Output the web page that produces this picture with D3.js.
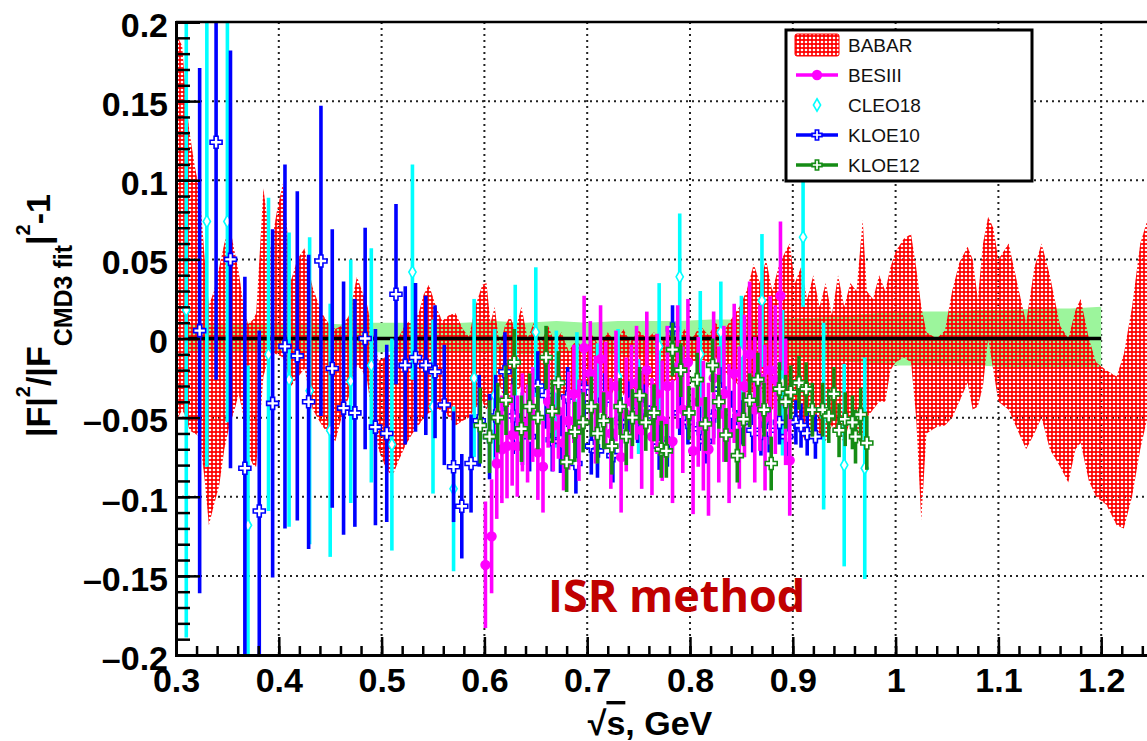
<!DOCTYPE html>
<html>
<head>
<meta charset="utf-8">
<script src="https://cdn.jsdelivr.net/npm/d3@7"></script>
<style>
  body { margin: 0; background: #fff; }
  svg { display: block; }
</style>
</head>
<body>
<svg id="chart" width="1147" height="741"></svg>
<script>
// ---- data ----
const xTicks = [0.3, 0.4, 0.5, 0.6, 0.7, 0.8, 0.9, 1.0, 1.1, 1.2];
const yTicks = [-0.2, -0.15, -0.1, -0.05, 0, 0.05, 0.1, 0.15, 0.2];

// BABAR band (upper / lower edge)
const babarX = [0.302,0.306,0.31,0.313,0.318,0.323,0.328,0.332,0.337,0.342,0.347,0.352,0.357,0.361,0.366,0.370,0.375,0.378,0.382,0.385,0.389,0.392,0.398,0.404,0.408,0.412,0.418,0.425,0.433,0.442,0.448,0.455,0.461,0.468,0.476,0.481,0.486,0.491,0.497,0.503,0.51,0.516,0.523,0.53,0.536,0.541,0.546,0.553,0.559,0.566,0.572,0.579,0.585,0.591,0.598,
  0.602,0.606,0.61,0.615,0.62,0.625,0.63,0.636,0.642,0.648,0.655,0.662,0.668,0.675,0.682,0.69,0.697,0.705,0.712,0.72,0.728,0.735,0.742,0.75,0.758,0.765,0.772,0.78,0.788,0.795,0.802,0.81,0.818,0.825,0.832,0.84,0.848,0.855,0.862,0.868,0.874,0.88,0.886,0.892,0.897,0.902,0.908,0.914,0.92,0.926,0.932,0.938,0.944,0.95,0.956,0.962,0.968,0.972,0.978,0.984,
  0.99,0.995,1.0,1.008,1.015,1.02,1.025,1.03,1.04,1.048,1.055,1.062,1.07,1.075,1.08,1.085,1.09,1.095,1.1,1.11,1.12,1.127,1.135,1.142,1.15,1.16,1.168,1.175,1.18,1.188,1.195,1.205,1.215,1.222,1.23,1.238,1.245];
const babarHi = [0.19,0.185,0.15,0.131,0.11,0.093,0.05,0.021,0.03,0.045,0.06,0.072,0.055,0.042,0.02,0.009,0.012,0.016,0.06,0.095,0.075,0.057,0.08,0.098,0.07,0.037,0.05,0.057,0.032,0.016,0.01,0.006,0.008,0.014,0.039,0.03,0.021,0.005,-0.014,-0.012,-0.009,0.0,0.009,0.012,0.016,0.028,0.034,0.02,0.011,0.015,0.016,0.006,0.001,0.02,0.034,
  0.035,0.01,0.02,-0.005,0.008,0.014,0.005,0.02,0.0,0.01,-0.003,0.008,-0.002,0.004,-0.008,0.0,-0.01,0.002,-0.005,0.004,-0.003,0.006,-0.002,0.005,0.0,0.004,-0.002,0.004,0.0,0.006,0.0,0.008,0.002,0.01,0.004,0.012,0.02,0.03,0.047,0.035,0.05,0.03,0.045,0.054,0.06,0.035,0.045,0.025,0.04,0.02,0.035,0.015,0.04,0.02,0.035,0.03,0.075,0.03,0.025,0.04,
  0.03,0.045,0.055,0.063,0.066,0.045,0.02,0.004,0.0,0.005,0.03,0.048,0.058,0.05,0.025,0.06,0.077,0.07,0.05,0.06,0.03,0.01,0.045,0.06,0.04,0.008,0.0,0.018,0.025,0.0,-0.015,-0.02,-0.024,-0.01,0.02,0.06,0.075];
const babarLo = [-0.05,-0.045,-0.05,-0.058,-0.06,-0.062,-0.09,-0.118,-0.105,-0.093,-0.07,-0.055,-0.045,-0.035,-0.05,-0.073,-0.08,-0.081,-0.05,-0.024,-0.015,-0.009,-0.01,-0.012,-0.02,-0.03,-0.025,-0.019,-0.045,-0.055,-0.06,-0.065,-0.05,-0.037,-0.017,-0.02,-0.027,-0.05,-0.07,-0.08,-0.088,-0.078,-0.068,-0.06,-0.055,-0.05,-0.047,-0.045,-0.045,-0.05,-0.055,-0.052,-0.05,-0.044,-0.04,
  -0.045,-0.04,-0.035,-0.03,-0.04,-0.043,-0.035,-0.03,-0.038,-0.03,-0.028,-0.035,-0.03,-0.038,-0.035,-0.039,-0.03,-0.036,-0.032,-0.04,-0.03,-0.036,-0.03,-0.034,-0.03,-0.032,-0.028,-0.03,-0.025,-0.02,-0.015,-0.013,-0.015,-0.012,-0.02,-0.025,-0.03,-0.034,-0.034,-0.03,-0.04,-0.045,-0.04,-0.045,-0.035,-0.05,-0.06,-0.066,-0.055,-0.06,-0.065,-0.055,-0.06,-0.066,-0.05,-0.066,-0.06,-0.05,-0.045,-0.04,
  -0.04,-0.02,-0.015,-0.012,-0.015,-0.05,-0.115,-0.06,-0.056,-0.055,-0.05,-0.04,-0.028,-0.045,-0.043,-0.03,0.0,-0.02,-0.04,-0.045,-0.06,-0.07,-0.06,-0.05,-0.07,-0.081,-0.091,-0.07,-0.066,-0.09,-0.1,-0.105,-0.118,-0.12,-0.1,-0.07,-0.05];

// CMD-3 fit uncertainty band (green)
const bandX  = [0.31,0.33,0.35,0.37,0.40,0.43,0.46,0.49,0.52,0.55,0.58,0.61,0.64,0.67,0.70,0.73,0.76,0.79,0.82,0.85,0.88,0.90,0.92,0.94,0.96,0.98,1.00,1.02,1.05,1.08,1.11,1.14,1.17,1.20];
const bandHi = [0.008,0.010,0.009,0.010,0.009,0.010,0.009,0.010,0.010,0.009,0.010,0.011,0.010,0.011,0.010,0.011,0.011,0.011,0.012,0.012,0.012,0.013,0.013,0.014,0.015,0.016,0.017,0.017,0.017,0.018,0.018,0.019,0.019,0.020];
const bandLo = [-0.008,-0.008,-0.009,-0.008,-0.009,-0.008,-0.009,-0.009,-0.008,-0.009,-0.009,-0.009,-0.010,-0.009,-0.010,-0.010,-0.010,-0.011,-0.011,-0.011,-0.012,-0.012,-0.013,-0.014,-0.015,-0.016,-0.017,-0.017,-0.017,-0.017,-0.018,-0.018,-0.018,-0.018];

// BESIII
const besX = [0.601,0.607,0.612,0.617,0.622,0.627,0.632,0.637,0.642,0.647,0.652,0.657,0.662,0.667,0.672,0.677,0.682,0.687,0.692,0.697,0.703,0.708,0.713,0.718,0.723,0.728,0.733,0.738,0.743,0.748,0.753,0.758,0.763,0.768,0.773,0.778,0.783,0.788,0.793,0.798,0.803,0.808,0.813,0.818,0.823,0.828,0.833,0.838,0.843,0.848,0.853,0.858,0.863,0.868,0.873,0.878,0.883,0.888,0.893,0.897];
const besY = [-0.143,-0.125,-0.079,-0.070,-0.068,-0.061,-0.068,-0.053,-0.060,-0.048,-0.072,-0.081,-0.040,-0.055,-0.046,-0.066,-0.052,-0.035,-0.058,-0.006,-0.022,-0.045,-0.013,-0.036,-0.060,-0.030,-0.075,-0.048,-0.040,-0.028,-0.058,-0.020,-0.062,-0.035,-0.052,-0.030,-0.065,-0.018,-0.045,-0.015,-0.071,-0.040,-0.055,-0.070,-0.025,-0.048,-0.035,-0.060,-0.022,-0.050,-0.030,-0.010,-0.045,-0.025,-0.050,-0.020,-0.026,0.027,-0.040,-0.077];
const besErr = [0.040,0.036,0.035,0.034,0.033,0.032,0.032,0.031,0.031,0.030,0.030,0.029,0.029,0.029,0.030,0.030,0.031,0.031,0.032,0.033,0.033,0.034,0.034,0.034,0.035,0.035,0.035,0.036,0.036,0.036,0.037,0.037,0.037,0.038,0.038,0.038,0.039,0.039,0.040,0.040,0.040,0.041,0.041,0.042,0.042,0.043,0.043,0.044,0.044,0.045,0.045,0.046,0.046,0.046,0.046,0.047,0.047,0.047,0.040,0.035];

// CLEO18
const cleoX = [0.31,0.33,0.35,0.37,0.39,0.41,0.43,0.45,0.47,0.49,0.51,0.53,0.55,0.57,0.59,0.61,0.63,0.65,0.67,0.69,0.71,0.73,0.75,0.77,0.79,0.81,0.83,0.85,0.87,0.89,0.91,0.93,0.95,0.97];
const cleoY = [0.018,0.074,0.074,-0.118,-0.010,-0.026,-0.033,-0.058,-0.027,-0.017,-0.067,0.042,-0.043,-0.095,-0.025,-0.036,-0.014,0.004,-0.032,-0.036,-0.043,-0.024,-0.043,-0.005,0.039,-0.010,0.004,-0.009,0.024,-0.028,0.064,-0.049,-0.080,-0.082];
const cleoErr = [0.207,0.155,0.127,0.101,0.099,0.093,0.097,0.080,0.077,0.074,0.067,0.068,0.055,0.052,0.050,0.042,0.048,0.041,0.037,0.040,0.040,0.030,0.030,0.040,0.040,0.040,0.032,0.036,0.042,0.046,0.044,0.059,0.064,0.070];

// KLOE10
const kloe10X = [0.323,0.339,0.353,0.367,0.381,0.394,0.406,0.418,0.429,0.441,0.452,0.463,0.474,0.484,0.494,0.505,0.514,0.523,0.533,0.543,0.552,0.561,0.570,0.578,0.587,0.595,0.605,0.611,0.620,0.628,0.637,0.644,0.652,0.660,0.666,0.674,0.681,0.689,0.697,0.704,0.710,0.717,0.725,0.733,0.741,0.749,0.756,0.764,0.770,0.778,0.783,0.790,0.798,0.809,0.815,0.823,0.829,0.840,0.851,0.861,0.869,0.877,0.887,0.894,0.903,0.908,0.914,0.922];
const kloe10Y = [0.005,0.124,0.050,-0.082,-0.109,-0.041,-0.005,-0.011,-0.040,0.049,-0.019,-0.044,-0.047,0.000,-0.056,-0.060,0.028,-0.017,-0.012,-0.017,-0.021,-0.042,-0.081,-0.106,-0.079,-0.052,-0.062,-0.049,-0.021,-0.049,-0.057,-0.062,-0.030,-0.036,-0.064,-0.065,-0.037,-0.079,-0.031,-0.068,-0.071,-0.039,-0.074,-0.053,-0.043,-0.050,-0.044,-0.049,-0.068,-0.066,0.006,-0.047,-0.053,-0.057,-0.065,-0.049,-0.032,-0.047,-0.053,-0.058,-0.060,-0.058,-0.053,-0.062,-0.053,-0.055,-0.060,-0.062];
const kloe10Err = [0.166,0.150,0.132,0.121,0.114,0.110,0.115,0.104,0.093,0.098,0.088,0.080,0.072,0.070,0.062,0.056,0.057,0.050,0.047,0.044,0.042,0.038,0.035,0.033,0.031,0.029,0.027,0.026,0.025,0.024,0.023,0.022,0.022,0.021,0.020,0.020,0.019,0.019,0.018,0.018,0.017,0.017,0.017,0.016,0.016,0.016,0.015,0.015,0.015,0.015,0.015,0.014,0.014,0.014,0.014,0.014,0.014,0.014,0.014,0.014,0.014,0.014,0.014,0.014,0.014,0.014,0.014,0.014];

// KLOE12
const kloe12X = [0.596,0.605,0.613,0.621,0.629,0.636,0.644,0.652,0.660,0.666,0.672,0.680,0.688,0.696,0.704,0.710,0.716,0.724,0.732,0.738,0.744,0.751,0.757,0.765,0.772,0.777,0.783,0.791,0.799,0.807,0.815,0.822,0.828,0.835,0.846,0.852,0.858,0.866,0.872,0.879,0.887,0.893,0.898,0.906,0.913,0.919,0.929,0.935,0.940,0.945,0.951,0.958,0.961,0.966,0.972];
const kloe12Y = [-0.055,-0.062,-0.050,-0.039,-0.015,-0.057,-0.043,-0.050,-0.012,-0.046,-0.028,-0.078,-0.059,-0.053,-0.043,-0.060,-0.052,-0.068,-0.043,-0.062,-0.050,-0.036,-0.053,-0.047,-0.070,-0.071,-0.007,-0.020,-0.047,-0.026,-0.054,-0.017,-0.040,-0.061,-0.074,-0.051,-0.039,-0.026,-0.045,-0.079,-0.032,-0.040,-0.034,-0.028,-0.032,-0.045,-0.045,-0.049,-0.035,-0.058,-0.051,-0.053,-0.062,-0.048,-0.066];
const kloe12Err = [0.024,0.023,0.022,0.022,0.021,0.021,0.021,0.020,0.020,0.020,0.020,0.019,0.019,0.019,0.019,0.019,0.018,0.018,0.018,0.018,0.018,0.018,0.018,0.018,0.018,0.017,0.017,0.017,0.017,0.017,0.017,0.017,0.017,0.017,0.017,0.017,0.017,0.017,0.017,0.017,0.017,0.017,0.017,0.017,0.017,0.017,0.017,0.017,0.017,0.017,0.017,0.017,0.017,0.017,0.017];

const legendNames = ["BABAR", "BESIII", "CLEO18", "KLOE10", "KLOE12"];

// ---- setup ----
const svg = d3.select("svg#chart");
const x = d3.scaleLinear().domain([0.3, 1.3]).range([176, 1204]);
const y = d3.scaleLinear().domain([-0.2, 0.2]).range([655, 22]);

const colors = { BESIII: "#ff00ff", CLEO18: "#00ffff", KLOE10: "#0000ff", KLOE12: "#158c15" };
const boldFont = "'Liberation Sans', Arial, sans-serif";

const defs = svg.append("defs");
defs.append("clipPath").attr("id", "plot")
  .append("rect").attr("x", x(0.3)).attr("y", y(0.2))
  .attr("width", x(1.3) - x(0.3)).attr("height", y(-0.2) - y(0.2));

// red dotted fill, white holes are transparent
defs.append("pattern").attr("id", "dots")
  .attr("patternUnits", "userSpaceOnUse").attr("width", 4).attr("height", 4)
  .append("path")
  .attr("fill", "#ff0000").attr("fill-rule", "evenodd")
  .attr("d", "M0,0H4V4H0Z M2,0.65A1.35,1.35 0 1,0 2,3.35A1.35,1.35 0 1,0 2,0.65Z");

// dotted grid
const grid = svg.append("g").attr("stroke", "#222").attr("stroke-width", 2).attr("stroke-dasharray", "2,4");
grid.selectAll("line.v").data(xTicks.slice(1)).join("line")
  .attr("x1", d => x(d)).attr("x2", d => x(d)).attr("y1", y(0.2)).attr("y2", y(-0.2));
grid.selectAll("line.h").data(yTicks.filter(d => Math.abs(d) > 0.01 && Math.abs(d) < 0.19)).join("line")
  .attr("x1", x(0.3)).attr("x2", 1147).attr("y1", d => y(d)).attr("y2", d => y(d));

const plot = svg.append("g").attr("clip-path", "url(#plot)");

// green band
const bandData = bandX.map((d, i) => [d, bandLo[i], bandHi[i]]);
plot.append("path").datum(bandData)
  .attr("fill", "#9cf59c")
  .attr("d", d3.area().x(d => x(d[0])).y0(d => y(d[1])).y1(d => y(d[2])));

// BABAR band
const babarData = babarX.map((d, i) => [d, babarLo[i], babarHi[i]]);
plot.append("path").datum(babarData)
  .attr("fill", "url(#dots)")
  .attr("d", d3.area().x(d => x(d[0])).y0(d => y(d[1])).y1(d => y(d[2])));

// zero line
plot.append("line")
  .attr("x1", x(0.31)).attr("x2", x(1.2)).attr("y1", y(0)).attr("y2", y(0))
  .attr("stroke", "#000").attr("stroke-width", 3.5);

const crossSym = d3.symbol(d3.symbolCross, 80)();
const diamondSym = d3.symbol(d3.symbolDiamond, 45)();
const circleSym = d3.symbol(d3.symbolCircle, 60)();

function drawSeries(xs, ys, es, color, sym, fill) {
  const data = xs.map((d, i) => ({ x: d, y: ys[i], e: es[i] }));
  const g = plot.append("g");
  g.selectAll("line").data(data).join("line")
    .attr("x1", d => x(d.x)).attr("x2", d => x(d.x))
    .attr("y1", d => y(d.y + d.e)).attr("y2", d => y(d.y - d.e))
    .attr("stroke", color).attr("stroke-width", 3.6);
  g.selectAll("path").data(data).join("path")
    .attr("transform", d => `translate(${x(d.x)},${y(d.y)})`)
    .attr("d", sym)
    .attr("fill", fill).attr("stroke", color).attr("stroke-width", 1.6);
}

drawSeries(cleoX, cleoY, cleoErr, colors.CLEO18, diamondSym, "#fff");
drawSeries(kloe10X, kloe10Y, kloe10Err, colors.KLOE10, crossSym, "#fff");
drawSeries(besX, besY, besErr, colors.BESIII, circleSym, colors.BESIII);
drawSeries(kloe12X, kloe12Y, kloe12Err, colors.KLOE12, crossSym, "#fff");

// ---- axes ----
const fmtY = d => d === 0 ? "0" : (d < 0 ? "\u2013" : "") + String(+Math.abs(d).toFixed(2));
const fmtX = d => String(+d.toFixed(1));

const xAxis = svg.append("g").attr("transform", `translate(0,${y(-0.2)})`)
  .call(d3.axisBottom(x).tickValues(xTicks).tickFormat(fmtX).tickSize(-18).tickPadding(13));
svg.append("g").attr("transform", `translate(0,${y(-0.2)})`)
  .call(d3.axisBottom(x).tickValues(d3.range(30, 125, 2).map(d => d / 100)).tickFormat("").tickSize(-9));

const yAxis = svg.append("g").attr("transform", `translate(${x(0.3)},0)`)
  .call(d3.axisLeft(y).tickValues(yTicks).tickFormat(fmtY).tickSize(-24).tickPadding(8));
svg.append("g").attr("transform", `translate(${x(0.3)},0)`)
  .call(d3.axisLeft(y).tickValues(d3.range(-20, 21, 1).map(d => d / 100)).tickFormat("").tickSize(-14));

svg.selectAll(".domain").attr("stroke", "#000").attr("stroke-width", 3);
svg.selectAll(".tick line").attr("stroke", "#000").attr("stroke-width", 2.5);
svg.selectAll(".tick text").attr("font-family", boldFont).attr("font-weight", "bold")
  .attr("font-size", 34).attr("fill", "#000");
yAxis.selectAll(".tick text").attr("dy", "0.42em");
xAxis.selectAll(".tick text").attr("dy", "0.71em");

// top frame
svg.append("line").attr("x1", x(0.3)).attr("x2", 1147).attr("y1", y(0.2)).attr("y2", y(0.2))
  .attr("stroke", "#000").attr("stroke-width", 2.5);

// axis titles
const xt = svg.append("text").attr("x", 650).attr("y", 735).attr("text-anchor", "middle")
  .attr("font-family", boldFont).attr("font-weight", "bold").attr("font-size", 34);
xt.append("tspan").text("\u221A");
xt.append("tspan").attr("text-decoration", "overline").text("s");
xt.append("tspan").text(", GeV");

const yt = svg.append("text").attr("transform", "translate(50,437) rotate(-90)")
  .attr("font-family", boldFont).attr("font-weight", "bold").attr("font-size", 34);
yt.append("tspan").text("|F|");
yt.append("tspan").attr("font-size", 20).attr("dy", -20).text("2");
yt.append("tspan").attr("dy", 20).text("/|F");
yt.append("tspan").attr("font-size", 25).attr("dy", 22).text("CMD3 fit");
yt.append("tspan").attr("dy", -22).text("|");
yt.append("tspan").attr("font-size", 20).attr("dy", -20).text("2");
yt.append("tspan").attr("dy", 20).text("-1");

// ISR method label
svg.append("text").attr("x", 548).attr("y", 612)
  .attr("font-family", "'Open Sans', sans-serif").attr("font-weight", "bold")
  .attr("font-size", 45).attr("fill", "#c00000").text("ISR method");

// ---- legend ----
const lg = svg.append("g");
lg.append("rect").attr("x", 786).attr("y", 30).attr("width", 246).attr("height", 151)
  .attr("fill", "#fff").attr("stroke", "#000").attr("stroke-width", 3);
const rowY = d3.scalePoint().domain(legendNames).range([45, 165]);
legendNames.forEach(name => {
  const cy = rowY(name);
  if (name === "BABAR") {
    lg.append("rect").attr("x", 795).attr("y", cy - 11).attr("width", 44).attr("height", 22)
      .attr("rx", 2).attr("fill", "url(#dots)").attr("stroke", "#ff0000");
  } else {
    const c = colors[name];
    if (name !== "CLEO18") {
      lg.append("line").attr("x1", 796).attr("x2", 838).attr("y1", cy).attr("y2", cy)
        .attr("stroke", c).attr("stroke-width", 3.5);
    }
    const sym = name === "BESIII" ? circleSym : name === "CLEO18" ? diamondSym : d3.symbol(d3.symbolCross, 55)();
    lg.append("path").attr("transform", `translate(817,${cy})`).attr("d", sym)
      .attr("fill", name === "BESIII" ? c : "#fff").attr("stroke", c).attr("stroke-width", 1.6);
  }
  lg.append("text").attr("x", 848).attr("y", cy + 7)
    .attr("font-family", "'Liberation Sans', Arial, sans-serif").attr("font-size", 19)
    .attr("fill", "#111").text(name);
});
</script>
</body>
</html>
